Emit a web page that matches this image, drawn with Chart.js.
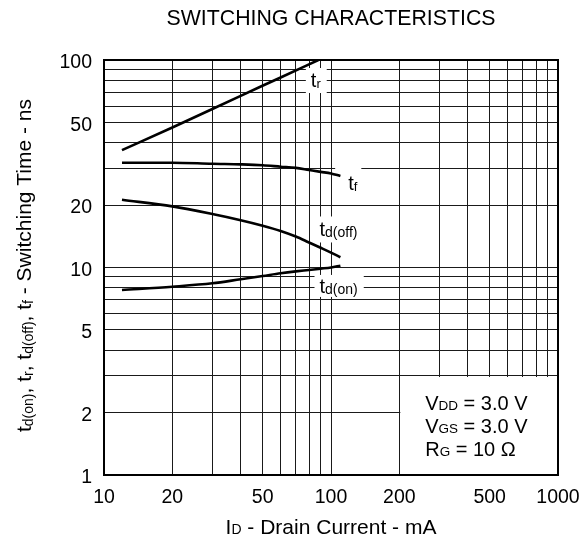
<!DOCTYPE html>
<html><head><meta charset="utf-8">
<script src="https://cdn.jsdelivr.net/npm/chart.js@4/dist/chart.umd.min.js"></script>
<style>html,body{margin:0;padding:0;background:#fff;}#wrap{width:584px;height:541px;position:relative;}</style>
</head><body><div id="wrap"><canvas id="c" width="584" height="541"></canvas></div>
<script>
// ---- data ----
const xTickValues = [10,20,30,40,50,60,70,80,90,100,200,300,400,500,600,700,800,900,1000];
const xLabelValues = [10,20,50,100,200,500,1000];
const yTickValues = [1,2,3,4,5,6,7,8,9,10,20,30,40,50,60,70,80,90,100];
const yLabelValues = [1,2,5,10,20,50,100];

const trCurrent = [12, 20, 40, 60, 88];
const trTime    = [36.8, 47.3, 67.2, 82.4, 100];

const curveCurrent = [12, 20, 30, 40, 50, 60, 70, 80, 90, 100, 110];
const tfTime    = [32.0, 32.0, 31.6, 31.4, 31.1, 30.6, 30.2, 29.5, 28.9, 28.4, 27.6];
const tdoffTime = [21.2, 19.7, 18.1, 16.9, 15.9, 15.0, 14.1, 13.2, 12.45, 11.8, 11.2];
const tdonTime  = [7.79, 8.08, 8.39, 8.78, 9.1, 9.38, 9.58, 9.73, 9.87, 10.0, 10.2];

const FONT = "'Liberation Sans', Arial, Helvetica, sans-serif";

function pts(xs, ys){ return xs.map((v,i)=>({x:v, y:ys[i]})); }

// rich text helper: parts = [[text, size, dy]]
function richWidth(ctx, parts){
  let w = 0;
  for (const p of parts){ ctx.font = p[1] + 'px ' + FONT; w += ctx.measureText(p[0]).width; }
  return w;
}
function drawRich(ctx, parts, x, y, align){
  const w = richWidth(ctx, parts);
  let cx = align === 'center' ? x - w/2 : (align === 'right' ? x - w : x);
  ctx.textBaseline = 'alphabetic';
  ctx.textAlign = 'left';
  for (const p of parts){
    ctx.font = p[1] + 'px ' + FONT;
    ctx.fillText(p[0], cx, y + (p[2]||0));
    cx += ctx.measureText(p[0]).width;
  }
  return w;
}

// curve labels: anchor (left edge, vertical centre) given in data units
const curveLabels = [
  {parts:[['t',20],['r',13,1]],        x:81.5, y:80.1, box:[5,12,6,13]},
  {parts:[['t',20],['f',13,1]],        x:119,  y:25.5, box:[13,17,4,13]},
  {parts:[['t',20],['d(off)',14,1]],   x:89,   y:15.25, box:[4,13,4,13]},
  {parts:[['t',20],['d(on)',14,1]],    x:89,   y:8.15, box:[5,11,6,11]}
];

const decor = {
  id: 'decor',
  beforeDatasetsDraw(chart){
    const {ctx, chartArea:a, scales:{x, y}} = chart;
    ctx.save();
    ctx.fillStyle = '#fff';
    const x200 = x.getPixelForValue(200), y3 = y.getPixelForValue(3);
    ctx.fillRect(x200 + 1, y3 + 1, a.right - x200 - 1, a.bottom - y3 - 1);
    for (const L of curveLabels){
      const px = x.getPixelForValue(L.x), py = y.getPixelForValue(L.y);
      const w = richWidth(ctx, L.parts);
      ctx.fillStyle = '#fff';
      ctx.fillRect(px - L.box[0], py - L.box[1], w + L.box[0] + L.box[2], L.box[1] + L.box[3]);
    }
    ctx.strokeStyle = '#000';
    ctx.lineWidth = 2;
    ctx.strokeRect(a.left, a.top, a.right - a.left, a.bottom - a.top);
    ctx.restore();
  },
  afterDraw(chart){
    const {ctx, chartArea:a, scales:{x, y}} = chart;
    ctx.save();
    ctx.fillStyle = '#000';
    // curve labels
    for (const L of curveLabels){
      const px = x.getPixelForValue(L.x), py = y.getPixelForValue(L.y);
      drawRich(ctx, L.parts, px, py + 7, 'left');
    }
    // conditions
    const ax = x.getPixelForValue(260);
    const ay = y.getPixelForValue(2.05);
    drawRich(ctx, [['V',20],['DD',13.5],[' = 3.0 V',20]], ax, ay, 'left');
    drawRich(ctx, [['V',20],['GS',13.5],[' = 3.0 V',20]], ax, ay + 23, 'left');
    drawRich(ctx, [['R',20],['G',13.5],[' = 10 \u03A9',20]], ax, ay + 46, 'left');
    // title
    const cx = (a.left + a.right) / 2;
    ctx.font = '21.3px ' + FONT;
    ctx.textAlign = 'center';
    ctx.textBaseline = 'middle';
    ctx.fillText('SWITCHING CHARACTERISTICS', cx, 19);
    // x title
    drawRich(ctx, [['I',21],['D',14],[' - Drain Current - mA',21]], cx, 534, 'center');
    // y title
    ctx.translate(31, (a.top + a.bottom) / 2 - 2);
    ctx.rotate(-Math.PI / 2);
    drawRich(ctx, [['t',21],['d(on)',14,2],[', t',21],['r',14,2],[', t',21],['d(off)',14,2],[', t',21],['f',14,2],[' - Switching Time - ns',21]], 0, 0, 'center');
    ctx.restore();
  }
};

const lineStyle = {borderColor:'#000', borderWidth:2.6, pointRadius:0, fill:false, tension:0.4, cubicInterpolationMode:'monotone'};

new Chart(document.getElementById('c'), {
  type: 'line',
  data: {
    datasets: [
      Object.assign({label:'tr',     data: pts(trCurrent, trTime)}, lineStyle),
      Object.assign({label:'tf',     data: pts(curveCurrent, tfTime)}, lineStyle),
      Object.assign({label:'td(off)',data: pts(curveCurrent, tdoffTime)}, lineStyle),
      Object.assign({label:'td(on)', data: pts(curveCurrent, tdonTime)}, lineStyle)
    ]
  },
  options: {
    responsive: false,
    animation: false,
    devicePixelRatio: 1,
    layout: {padding: {top: 60, right: 26, left: 0, bottom: 0}},
    plugins: {legend: {display:false}, tooltip: {enabled:false}, title: {display:false}},
    scales: {
      x: {
        type: 'logarithmic', min: 10, max: 1000,
        afterBuildTicks(s){ s.ticks = xTickValues.map(v=>({value:v})); },
        afterFit(s){ s.height = 66; s.paddingLeft = 0; s.paddingRight = 0; },
        ticks: {
          autoSkip: false, maxRotation: 0, padding: 11, color: '#000',
          font: {family: FONT, size: 19.5},
          callback(v){ return xLabelValues.includes(v) ? String(v) : ''; }
        },
        grid: {color: '#1a1a1a', lineWidth: 1, drawTicks: false},
        border: {display: true, color: '#000', width: 2}
      },
      y: {
        type: 'logarithmic', min: 1, max: 100,
        afterBuildTicks(s){ s.ticks = yTickValues.map(v=>({value:v})); },
        afterFit(s){ s.width = 104; s.paddingTop = 0; s.paddingBottom = 0; },
        ticks: {
          autoSkip: false, padding: 12, labelOffset: 3, color: '#000',
          font: {family: FONT, size: 19.5},
          callback(v){ return yLabelValues.includes(v) ? String(v) : ''; }
        },
        grid: {color: '#1a1a1a', lineWidth: 1, drawTicks: false},
        border: {display: true, color: '#000', width: 2}
      }
    }
  },
  plugins: [decor]
});
</script></body></html>
